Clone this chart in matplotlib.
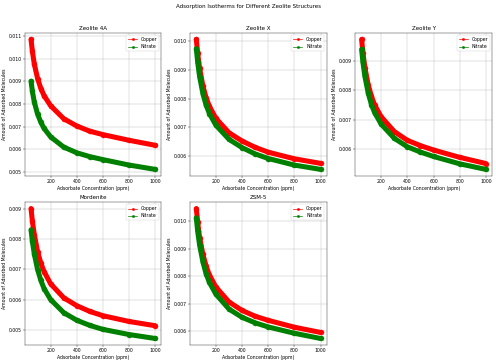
import matplotlib
matplotlib.use("Agg")
import matplotlib.pyplot as plt
from matplotlib.lines import Line2D

## Concentracao do adsorbato (ppm)
conc = [50, 60, 75, 100, 125, 150, 200, 300, 400, 500, 600, 800, 1000]

zeolites = ["Zeolite 4A", "Zeolite X", "Zeolite Y", "Mordenite", "ZSM-5"]

copper_4a = [0.01084, 0.01032, 0.00975, 0.00912, 0.00868, 0.00836, 0.00792, 0.00735, 0.00703, 0.00680, 0.00665, 0.00640, 0.00618]
nitrate_4a = [0.00900, 0.00856, 0.00808, 0.00755, 0.00719, 0.00692, 0.00655, 0.00610, 0.00585, 0.00568, 0.00555, 0.00531, 0.00512]
copper_x = [0.01007, 0.00958, 0.00906, 0.00845, 0.00803, 0.00773, 0.00731, 0.00681, 0.00652, 0.00630, 0.00613, 0.00590, 0.00574]
nitrate_x = [0.00975, 0.00928, 0.00877, 0.00818, 0.00777, 0.00748, 0.00707, 0.00658, 0.00629, 0.00607, 0.00591, 0.00568, 0.00553]
copper_y = [0.00974, 0.00928, 0.00878, 0.00820, 0.00780, 0.00750, 0.00710, 0.00660, 0.00630, 0.00612, 0.00597, 0.00572, 0.00551]
nitrate_y = [0.00940, 0.00896, 0.00848, 0.00792, 0.00752, 0.00724, 0.00685, 0.00637, 0.00608, 0.00590, 0.00575, 0.00550, 0.00531]
copper_mord = [0.00900, 0.00858, 0.00814, 0.00758, 0.00720, 0.00692, 0.00652, 0.00606, 0.00580, 0.00561, 0.00547, 0.00528, 0.00514]
nitrate_mord = [0.00830, 0.00792, 0.00750, 0.00699, 0.00663, 0.00636, 0.00600, 0.00557, 0.00532, 0.00515, 0.00502, 0.00485, 0.00472]
copper_zsm = [0.01046, 0.00996, 0.00940, 0.00880, 0.00836, 0.00804, 0.00760, 0.00706, 0.00675, 0.00654, 0.00639, 0.00614, 0.00595]
nitrate_zsm = [0.01012, 0.00964, 0.00913, 0.00852, 0.00808, 0.00777, 0.00734, 0.00680, 0.00650, 0.00630, 0.00615, 0.00592, 0.00573]

copper = [copper_4a, copper_x, copper_y, copper_mord, copper_zsm]
nitrate = [nitrate_4a, nitrate_x, nitrate_y, nitrate_mord, nitrate_zsm]

fig, axes = plt.subplots(2, 3, figsize=(15.06, 10.97), dpi=33)
fig.suptitle("Adsorption Isotherms for Different Zeolite Structures", y=0.99)

handles = [Line2D([], [], color="red", marker="o", markersize=5, lw=1.5),
           Line2D([], [], color="green", marker="o", markersize=5, lw=1.5)]

for i, nome in enumerate(zeolites):
    ax = axes.flat[i]
    ax.plot(conc, copper[i], color="red", lw=11, marker="o", markersize=11,
            solid_capstyle="round", solid_joinstyle="round")
    ax.plot(conc, nitrate[i], color="green", lw=11, marker="o", markersize=11,
            solid_capstyle="round", solid_joinstyle="round")
    ax.set_title(nome)
    ax.set_xlabel("Adsorbate Concentration (ppm)")
    ax.set_ylabel("Amount of Adsorbed Molecules")
    ax.set_xticks([200, 400, 600, 800, 1000])
    ax.grid(True)
    ax.legend(handles, ["Copper", "Nitrate"], loc="upper right")

axes.flat[5].remove()
plt.subplots_adjust(left=0.05, right=0.99, top=0.909, bottom=0.047,
                    wspace=0.21, hspace=0.183)
plt.savefig("out.png")
